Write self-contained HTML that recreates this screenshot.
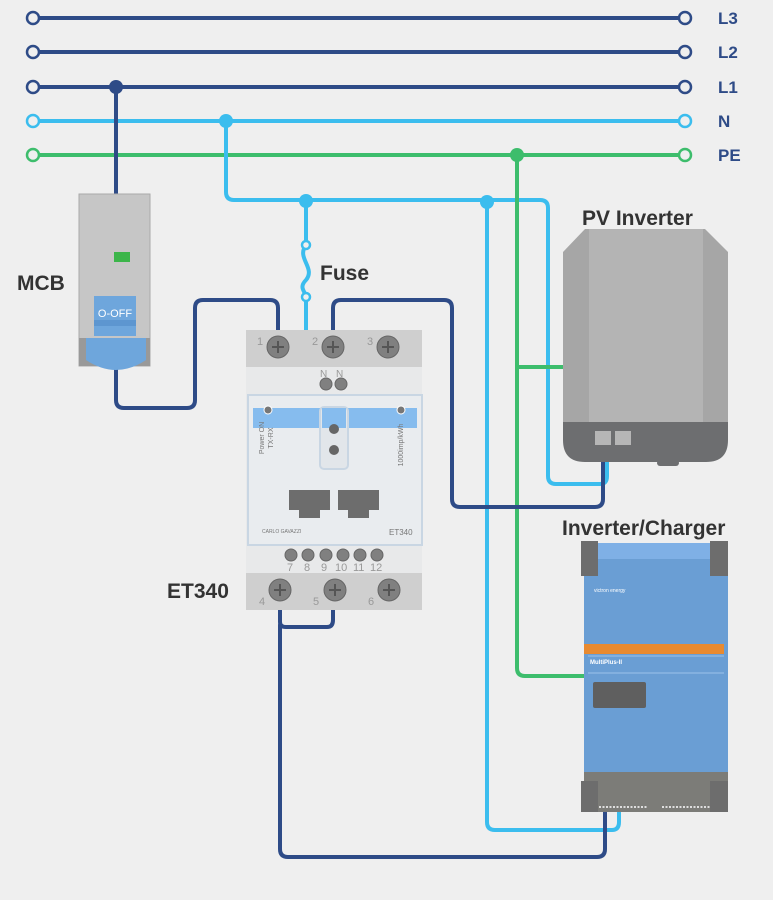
<!DOCTYPE html>
<html><head><meta charset="utf-8"><style>
html,body{margin:0;padding:0;background:#efefef}
svg{display:block}
text{font-family:"Liberation Sans",sans-serif}
</style></head><body>
<svg width="773" height="900" viewBox="0 0 773 900" xmlns="http://www.w3.org/2000/svg">
<rect width="773" height="900" fill="#efefef"/>
<g fill="none" stroke-width="4" stroke-linejoin="round" stroke-linecap="round">
<!-- bus lines -->
<line x1="39" y1="18" x2="679" y2="18" stroke="#2e4b87"/>
<line x1="39" y1="52" x2="679" y2="52" stroke="#2e4b87"/>
<line x1="39" y1="87" x2="679" y2="87" stroke="#2e4b87"/>
<line x1="39" y1="121" x2="679" y2="121" stroke="#3bbdee"/>
<line x1="39" y1="155" x2="679" y2="155" stroke="#3dbd6c"/>
<!-- N wiring -->
<path d="M226 121 V192 Q226 200 234 200 H540 Q548 200 548 208 V476 Q548 484 556 484 H600 Q607 484 607 476 V458" stroke="#3bbdee"/>
<path d="M306 200 V245 C296 258 316 268 306 280 C298 288 306 292 306 297 V372 Q306 380 314 380 H326" stroke="#3bbdee"/>
<path d="M487 202 V822 Q487 830 495 830 H612 Q619 830 619 822 V808" stroke="#3bbdee"/>
<!-- PE -->
<path d="M517 155 V668 Q517 676 525 676 H585" stroke="#3dbd6c"/>
<path d="M517 367 H565" stroke="#3dbd6c"/>
<!-- L1 / MCB -->
<path d="M116 87 V196" stroke="#2e4b87"/>
<path d="M116 365 V400 Q116 408 124 408 H187 Q195 408 195 400 V308 Q195 300 203 300 H270 Q278 300 278 308 V335" stroke="#2e4b87"/>
<path d="M333 335 V308 Q333 300 341 300 H444 Q452 300 452 308 V499 Q452 507 460 507 H595 Q603 507 603 499 V458" stroke="#2e4b87"/>
<path d="M280 600 V622 Q280 627 286 627 H327 Q333 627 333 620 V600" stroke="#2e4b87"/>
<path d="M280 625 V849 Q280 857 288 857 H597 Q605 857 605 849 V808" stroke="#2e4b87"/>
</g>
<!-- end circles -->
<g fill="#efefef" stroke-width="2.5">
<circle cx="33" cy="18" r="6" stroke="#2e4b87"/><circle cx="685" cy="18" r="6" stroke="#2e4b87"/>
<circle cx="33" cy="52" r="6" stroke="#2e4b87"/><circle cx="685" cy="52" r="6" stroke="#2e4b87"/>
<circle cx="33" cy="87" r="6" stroke="#2e4b87"/><circle cx="685" cy="87" r="6" stroke="#2e4b87"/>
<circle cx="33" cy="121" r="6" stroke="#3bbdee"/><circle cx="685" cy="121" r="6" stroke="#3bbdee"/>
<circle cx="33" cy="155" r="6" stroke="#3dbd6c"/><circle cx="685" cy="155" r="6" stroke="#3dbd6c"/>
<circle cx="306" cy="245" r="4" stroke="#3bbdee"/><circle cx="306" cy="297" r="4" stroke="#3bbdee"/>
</g>
<!-- junction dots -->
<circle cx="116" cy="87" r="7" fill="#2e4b87"/>
<circle cx="226" cy="121" r="7" fill="#3bbdee"/>
<circle cx="517" cy="155" r="7" fill="#3dbd6c"/>
<circle cx="306" cy="201" r="7" fill="#3bbdee"/>
<circle cx="487" cy="202" r="7" fill="#3bbdee"/>
<g font-weight="bold" font-size="17" fill="#2e4b87">
<text x="718" y="24">L3</text><text x="718" y="58">L2</text><text x="718" y="93">L1</text><text x="718" y="127">N</text><text x="718" y="161">PE</text>
</g>
<!-- MCB -->
<rect x="79" y="194" width="71" height="172" fill="#c6c6c6" stroke="#aaa"/>
<rect x="114" y="252" width="16" height="10" fill="#3cb54a"/>
<rect x="79" y="338" width="71" height="28" fill="#999"/>
<rect x="94" y="296" width="42" height="40" fill="#6ea6dc"/>
<rect x="94" y="320" width="42" height="6" fill="#5d96d0"/>
<path d="M86 338 H146 V360 Q116 380 86 360 Z" fill="#6ea6dc"/>
<text x="115" y="317" font-size="11" fill="#fff" text-anchor="middle">O-OFF</text>
<g font-weight="bold" font-size="21" fill="#333">
<text x="17" y="290">MCB</text>
<text x="320" y="280">Fuse</text>
<text x="167" y="598">ET340</text>
<text x="582" y="225">PV Inverter</text>
<text x="562" y="535">Inverter/Charger</text>
</g>
<!-- ET340 -->
<rect x="246" y="330" width="176" height="280" fill="#e8e9ea"/>
<rect x="246" y="330" width="176" height="37" fill="#cfcfcf"/>
<rect x="246" y="573" width="176" height="37" fill="#cfcfcf"/>
<rect x="248" y="395" width="174" height="150" fill="#e9ecef" stroke="#c9d6e3" stroke-width="2"/>
<rect x="253" y="408" width="164" height="20" fill="#86bcee"/>
<rect x="320" y="407" width="28" height="62" rx="4" fill="#e2e6ea" stroke="#c9d6e3" stroke-width="2"/>
<rect x="322" y="408" width="24" height="20" fill="#86bcee"/>
<circle cx="334" cy="429" r="5" fill="#666"/><circle cx="334" cy="450" r="5" fill="#666"/>
<circle cx="268" cy="410" r="4" fill="#777" stroke="#fff"/><circle cx="401" cy="410" r="4" fill="#777" stroke="#fff"/>
<path d="M289 490 H330 V510 H320 V518 H299 V510 H289 Z" fill="#6d6d6d"/>
<path d="M338 490 H379 V510 H369 V518 H348 V510 H338 Z" fill="#6d6d6d"/>
<text x="270" y="438" font-size="7" fill="#777" transform="rotate(-90 270 438)" text-anchor="middle" dy="-6">Power ON</text>
<text x="270" y="438" font-size="7" fill="#777" transform="rotate(-90 270 438)" text-anchor="middle" dy="3">TX-RX</text>
<text x="403" y="445" font-size="7" fill="#777" transform="rotate(-90 403 445)" text-anchor="middle">1000imp/kWh</text>
<text x="262" y="533" font-size="5" fill="#777">CARLO GAVAZZI</text>
<text x="389" y="535" font-size="8" fill="#777">ET340</text>
<g fill="#808080" stroke="#666" stroke-width="1">
<circle cx="278" cy="347" r="11"/><circle cx="333" cy="347" r="11"/><circle cx="388" cy="347" r="11"/>
<circle cx="280" cy="590" r="11"/><circle cx="335" cy="590" r="11"/><circle cx="389" cy="590" r="11"/>
<circle cx="326" cy="384" r="6"/><circle cx="341" cy="384" r="6"/>
<circle cx="291" cy="555" r="6"/><circle cx="308" cy="555" r="6"/><circle cx="326" cy="555" r="6"/><circle cx="343" cy="555" r="6"/><circle cx="360" cy="555" r="6"/><circle cx="377" cy="555" r="6"/>
</g>
<g stroke="#555" stroke-width="2">
<path d="M272 347h12M278 341v12M327 347h12M333 341v12M382 347h12M388 341v12M274 590h12M280 584v12M329 590h12M335 584v12M383 590h12M389 584v12"/>
</g>
<g font-size="11" fill="#999">
<text x="257" y="345">1</text><text x="312" y="345">2</text><text x="367" y="345">3</text>
<text x="259" y="605">4</text><text x="313" y="605">5</text><text x="368" y="605">6</text>
<text x="320" y="377" font-size="10">N</text><text x="336" y="377" font-size="10">N</text>
<text x="287" y="571">7</text><text x="304" y="571">8</text><text x="321" y="571">9</text><text x="335" y="571">10</text><text x="353" y="571">11</text><text x="370" y="571">12</text>
</g>
<!-- PV inverter -->
<path d="M563 252 L585 229 H705 L728 252 V422 H563 Z" fill="#a6a6a6"/>
<rect x="589" y="229" width="114" height="193" fill="#b4b4b4"/>
<path d="M563 422 H728 V440 Q728 462 706 462 H585 Q563 462 563 440 Z" fill="#6d6e70"/>
<rect x="595" y="431" width="16" height="14" fill="#b6b6b6"/><rect x="615" y="431" width="16" height="14" fill="#b6b6b6"/>
<rect x="657" y="460" width="22" height="6" rx="3" fill="#6d6e70"/>
<!-- MultiPlus -->
<rect x="584" y="543" width="144" height="245" fill="#6a9ed4"/>
<rect x="584" y="543" width="144" height="16" fill="#7fb0e6"/>
<rect x="584" y="644" width="140" height="10" fill="#e88a30"/>
<line x1="588" y1="656" x2="724" y2="656" stroke="#9cc2ea"/>
<line x1="588" y1="673" x2="724" y2="673" stroke="#9cc2ea"/>
<text x="590" y="664" font-size="6" fill="#fff" font-weight="bold">MultiPlus-II</text>
<text x="594" y="592" font-size="5" fill="#fff">victron energy</text>
<rect x="593" y="682" width="53" height="26" rx="2" fill="#5f5f5f"/>
<rect x="584" y="772" width="144" height="40" fill="#7c7c78"/>
<rect x="581" y="541" width="17" height="35" fill="#6d6d6d"/><rect x="710" y="541" width="18" height="35" fill="#6d6d6d"/>
<rect x="581" y="781" width="17" height="31" fill="#6d6d6d"/><rect x="710" y="781" width="18" height="31" fill="#6d6d6d"/>
<line x1="599" y1="807" x2="647" y2="807" stroke="#fff" stroke-width="1.5" stroke-dasharray="2 1.5"/>
<line x1="662" y1="807" x2="710" y2="807" stroke="#fff" stroke-width="1.5" stroke-dasharray="2 1.5"/>
</svg>
</body></html>
